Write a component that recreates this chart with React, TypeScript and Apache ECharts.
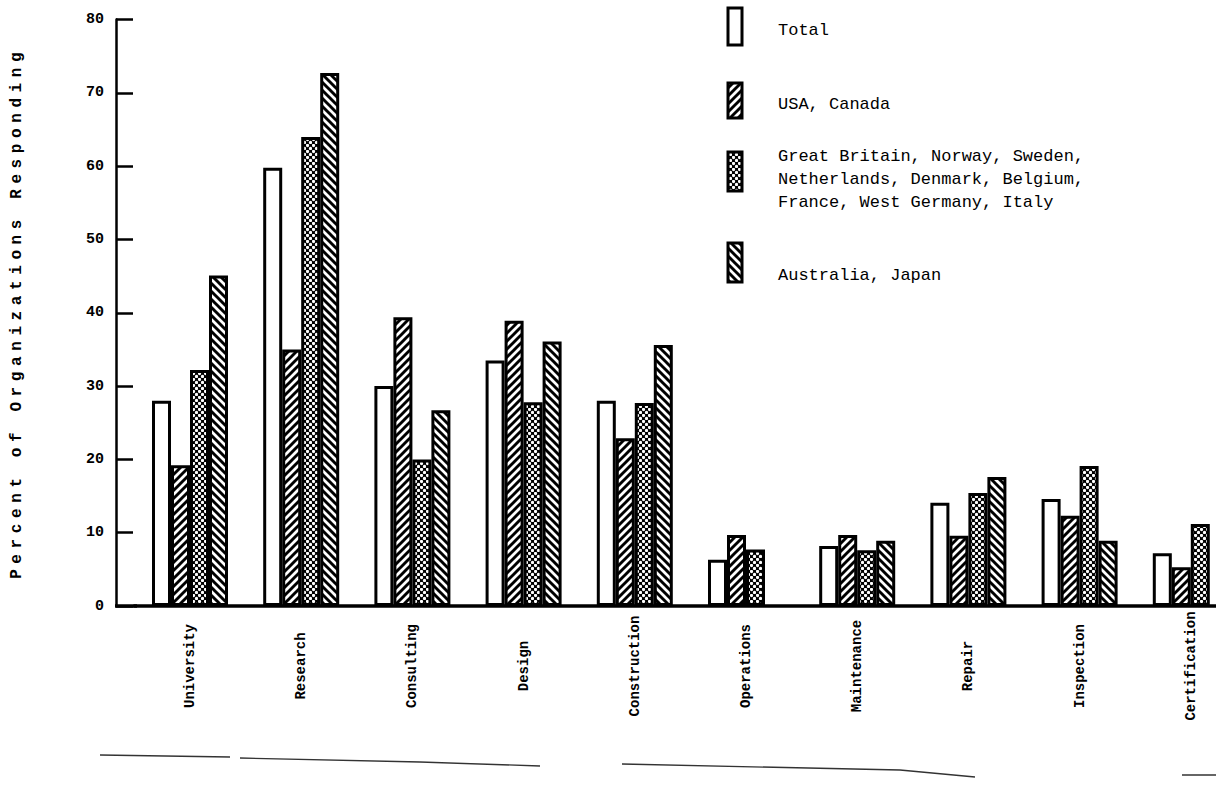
import React, { useEffect, useRef } from 'react';
import * as echarts from 'echarts';

const categories = ['University', 'Research', 'Consulting', 'Design', 'Construction', 'Operations', 'Maintenance', 'Repair', 'Inspection', 'Certification'];
const totalValues = [28, 59.8, 30, 33.5, 28, 6.3, 8.2, 14.1, 14.6, 7.2];
const usaCanadaValues = [19.2, 35, 39.4, 38.9, 22.9, 9.7, 9.7, 9.6, 12.3, 5.3];
const europeValues = [32.2, 64, 20, 27.8, 27.7, 7.7, 7.6, 15.4, 19.1, 11.2];
const australiaJapanValues: (number | null)[] = [45.1, 72.7, 26.7, 36.1, 35.6, null, 8.9, 17.6, 8.9, null];
const seriesNames = [
  'Total',
  'USA, Canada',
  'Great Britain, Norway, Sweden,\nNetherlands, Denmark, Belgium,\nFrance, West Germany, Italy',
  'Australia, Japan',
];
const yAxisTitle = 'Percent of Organizations Responding';
const yMin = 0;
const yMax = 80;
const yStep = 10;

const MONO = '"Liberation Mono", "DejaVu Sans Mono", monospace';

function makePattern(kind: string) {
  const s = kind === 'dots' ? 6 : 8;
  const c = document.createElement('canvas');
  c.width = s;
  c.height = s;
  const ctx = c.getContext('2d')!;
  if (kind === 'blank') {
    ctx.fillStyle = '#fff';
    ctx.fillRect(0, 0, s, s);
  } else if (kind === 'dots') {
    ctx.fillStyle = '#000';
    ctx.fillRect(0, 0, s, s);
    ctx.fillStyle = '#fff';
    [[1.5, 1.5], [4.5, 4.5]].forEach(([x, y]) => {
      ctx.beginPath();
      ctx.arc(x, y, 1.65, 0, Math.PI * 2);
      ctx.fill();
    });
  } else {
    ctx.fillStyle = '#fff';
    ctx.fillRect(0, 0, s, s);
    ctx.strokeStyle = '#000';
    ctx.lineWidth = 2.9;
    ctx.beginPath();
    if (kind === 'fwd') {
      ctx.moveTo(-2, s + 2); ctx.lineTo(s + 2, -2);
      ctx.moveTo(-2, 2); ctx.lineTo(2, -2);
      ctx.moveTo(s - 2, s + 2); ctx.lineTo(s + 2, s - 2);
    } else {
      ctx.moveTo(-2, -2); ctx.lineTo(s + 2, s + 2);
      ctx.moveTo(s - 2, -2); ctx.lineTo(s + 2, 2);
      ctx.moveTo(-2, s - 2); ctx.lineTo(2, s + 2);
    }
    ctx.stroke();
  }
  return { image: c.toDataURL(), repeat: 'repeat', imageWidth: s, imageHeight: s };
}

export default function App() {
  const ref = useRef<HTMLDivElement>(null);

  useEffect(() => {
    document.body.style.margin = '0';
    if (!ref.current) return;
    const chart = echarts.init(ref.current, null, { renderer: 'svg' });

    const fills = [makePattern('blank'), makePattern('fwd'), makePattern('dots'), makePattern('back')];
    const valueSets = [totalValues, usaCanadaValues, europeValues, australiaJapanValues];

    const legendBoxY = [8, 83, 152, 243];
    const legendBoxH = [37, 35, 39, 39];
    const legendTextY = [30, 104, 156, 275];
    const lineH = 23;

    const legendGraphics: any[] = [];
    seriesNames.forEach((name, i) => {
      legendGraphics.push({
        type: 'rect',
        shape: { x: 728, y: legendBoxY[i], width: 14, height: legendBoxH[i] },
        style: { fill: fills[i], stroke: '#000', lineWidth: 3 },
      });
      legendGraphics.push({
        type: 'text',
        x: 778,
        y: legendTextY[i] - lineH / 2,
        style: {
          text: name,
          font: `17px ${MONO}`,
          fill: '#000',
          verticalAlign: 'top',
          lineHeight: lineH,
        },
      });
    });

    const artifactLines = [
      [[100, 755], [230, 757]],
      [[240, 758], [420, 762], [540, 766]],
      [[622, 764], [900, 770], [975, 777]],
      [[1182, 775], [1216, 775]],
    ];

    const option: any = {
      animation: false,
      backgroundColor: '#fff',
      grid: {
        left: 134.4,
        top: 19.6,
        width: 1112,
        height: 586.4,
        containLabel: false,
        outerBoundsMode: 'none',
      },
      xAxis: {
        type: 'category',
        data: categories,
        axisLine: { show: true, lineStyle: { color: '#000', width: 3.5 } },
        axisTick: { show: false },
        axisLabel: {
          interval: 0,
          rotate: 90,
          align: 'center',
          verticalAlign: 'middle',
          margin: 60,
          fontFamily: MONO,
          fontWeight: 'bold',
          fontSize: 14,
          color: '#000',
        },
      },
      yAxis: {
        type: 'value',
        min: yMin,
        max: yMax,
        interval: yStep,
        offset: 18.4,
        axisLine: { show: true, lineStyle: { color: '#000', width: 2.5 } },
        axisTick: { show: true, inside: true, length: 17, lineStyle: { color: '#000', width: 2.5 } },
        splitLine: { show: false },
        axisLabel: { margin: 12, fontFamily: MONO, fontSize: 15, fontWeight: 'bold', color: '#000' },
        name: yAxisTitle,
        nameLocation: 'middle',
        nameRotate: 90,
        nameGap: 91,
        nameTextStyle: { fontFamily: MONO, fontSize: 16, fontWeight: 'bold', color: '#000' },
      },
      series: valueSets.map((vals, i) => ({
        type: 'bar',
        name: seriesNames[i],
        data: vals.map((v) => (v == null ? '-' : v)),
        barWidth: 19,
        barGap: '0%',
        itemStyle: { color: fills[i], borderColor: '#000', borderWidth: 3 },
      })),
      graphic: [
        {
          type: 'line',
          shape: { x1: 115, y1: 606, x2: 137, y2: 606 },
          style: { stroke: '#000', lineWidth: 3.5 },
        },
        ...legendGraphics,
        ...artifactLines.map((pts) => ({
          type: 'polyline',
          shape: { points: pts },
          style: { stroke: '#333', lineWidth: 1.3, fill: null },
        })),
      ],
    };

    chart.setOption(option);

    const applySpacing = () => {
      const texts = ref.current?.querySelectorAll('text') || [];
      texts.forEach((t: any) => {
        if (t.textContent === yAxisTitle) {
          t.style.letterSpacing = '5.6px';
        }
      });
    };
    applySpacing();
    chart.on('finished', applySpacing);

    return () => {
      chart.dispose();
    };
  }, []);

  return <div ref={ref} style={{ width: 1216, height: 786 }} />;
}
